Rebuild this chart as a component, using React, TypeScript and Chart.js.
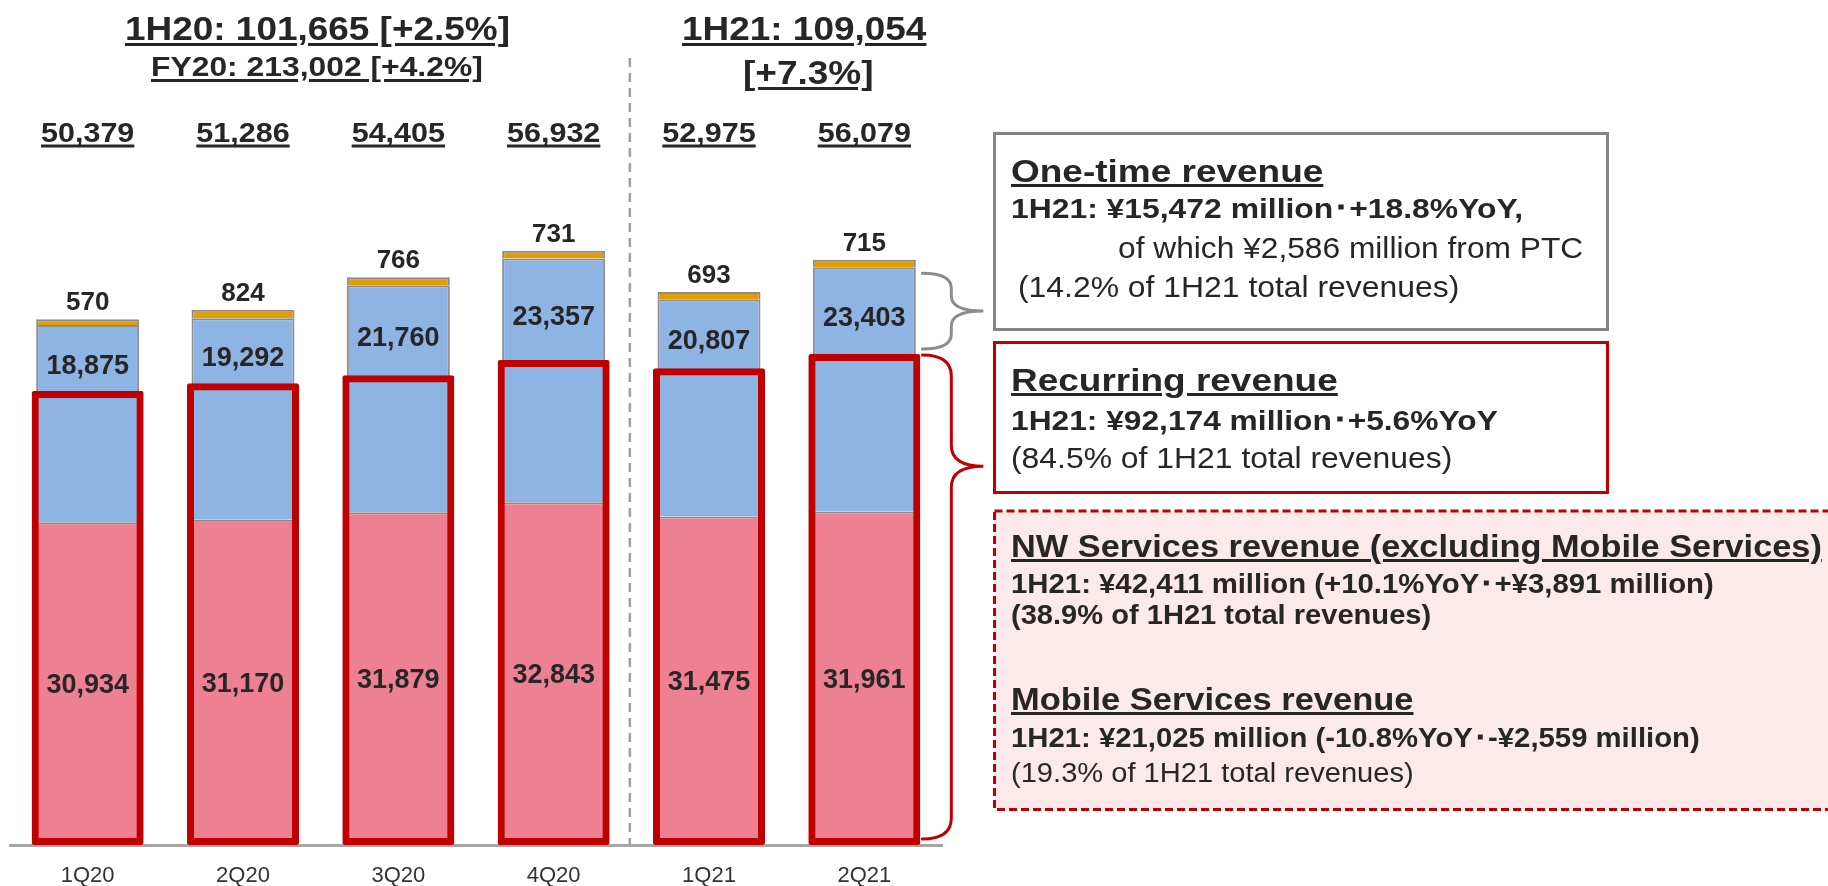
import React, { useEffect, useLayoutEffect, useRef, useState } from 'react';
import { Chart, registerables } from 'chart.js';

Chart.register(...registerables);

const categories = ['1Q20', '2Q20', '3Q20', '4Q20', '1Q21', '2Q21'];
const serviceRevenue = [30934, 31170, 31879, 32843, 31475, 31961];
const systemsRevenue = [18875, 19292, 21760, 23357, 20807, 23403];
const equipmentRevenue = [570, 824, 766, 731, 693, 715];
const recurringRevenue = [43500, 44240, 45000, 46470, 45670, 47040];
const quarterTotals = [50379, 51286, 54405, 56932, 52975, 56079];

const FONT = '"Liberation Sans", Arial, sans-serif';
const TEXT = '#262626';
const fmt = (n: number) => n.toLocaleString('en-US');

function drawText(ctx: any, text: string, x: number, baseline: number, size: number, sx = 1, underline = false) {
  ctx.save();
  ctx.font = `bold ${size}px ${FONT}`;
  ctx.fillStyle = TEXT;
  ctx.textAlign = 'center';
  ctx.textBaseline = 'alphabetic';
  ctx.translate(x, baseline);
  ctx.scale(sx, 1);
  ctx.fillText(text, 0, 0);
  if (underline) {
    const w = ctx.measureText(text).width;
    ctx.fillRect(-w / 2, 2.5, w, 3);
  }
  ctx.restore();
}

function brace(ctx: any, x0: number, xm: number, xt: number, yTop: number, yTip: number, yBot: number, ry: number) {
  ctx.beginPath();
  ctx.moveTo(x0, yTop);
  ctx.quadraticCurveTo(xm, yTop, xm, yTop + ry);
  ctx.lineTo(xm, yTip - ry);
  ctx.quadraticCurveTo(xm, yTip, xt, yTip);
  ctx.quadraticCurveTo(xm, yTip, xm, yTip + ry);
  ctx.lineTo(xm, yBot - ry);
  ctx.quadraticCurveTo(xm, yBot, x0, yBot);
  ctx.stroke();
}

const annotatePlugin = {
  id: 'annotate',
  afterDatasetsDraw(chart: any) {
    const ctx = chart.ctx;
    const xs = chart.scales.x;
    const ys = chart.scales.y;
    const box = chart.getDatasetMeta(0).data;
    const pink = chart.getDatasetMeta(1).data;
    const blue = chart.getDatasetMeta(2).data;
    const orange = chart.getDatasetMeta(3).data;
    const zero = ys.getPixelForValue(0);
    ctx.save();
    const sepX = (xs.getPixelForValue(3) + xs.getPixelForValue(4)) / 2 - 1.5;
    ctx.strokeStyle = '#a0a0a0';
    ctx.lineWidth = 2.5;
    ctx.setLineDash([9, 6]);
    ctx.beginPath();
    ctx.moveTo(sepX, 58);
    ctx.lineTo(sepX, zero);
    ctx.stroke();
    ctx.setLineDash([]);

    categories.forEach((_, i) => {
      const cx = pink[i].x;
      const pinkMid = (pink[i].y + pink[i].base) / 2;
      drawText(ctx, fmt(serviceRevenue[i]), cx, pinkMid + 0.358 * 27, 27);
      const blueMid = (blue[i].y + box[i].y) / 2 + 6;
      drawText(ctx, fmt(systemsRevenue[i]), cx, blueMid + 0.358 * 27, 27);
      drawText(ctx, fmt(equipmentRevenue[i]), cx, orange[i].y - 9, 26);
      drawText(ctx, fmt(quarterTotals[i]), cx, 142, 28, 1.09, true);
    });

    const last = categories.length - 1;
    const x0 = box[last].x + box[last].width / 2 + 2;
    const xm = x0 + 29;
    const xt = x0 + 61;
    ctx.lineWidth = 3;
    ctx.lineCap = 'round';
    ctx.strokeStyle = '#8c8c8c';
    const gTop = blue[last].y + 6;
    const gBot = box[last].y - 5;
    brace(ctx, x0, xm, xt, gTop, (gTop + gBot) / 2, gBot, 15);
    ctx.strokeStyle = '#c00000';
    const rTop = box[last].y + 1;
    const rBot = zero - 6;
    brace(ctx, x0, xm, xt, rTop, rTop + 0.23 * (rBot - rTop), rBot, 21);
    ctx.restore();
  },
};

function FitLine(props: any) {
  const { text, x, base, size, bold = false, underline = false, width, center = false, uOffset = 2 } = props;
  const ref = useRef<HTMLDivElement>(null);
  const [sx, setSx] = useState(1);
  useLayoutEffect(() => {
    const el = ref.current;
    if (el && el.offsetWidth) setSx(width / el.offsetWidth);
  }, [text, width, size]);
  return (
    <div
      ref={ref}
      style={{
        position: 'absolute',
        left: center ? x - width / 2 : x,
        top: base - 0.8465 * size,
        fontFamily: FONT,
        fontSize: size,
        lineHeight: `${size}px`,
        fontWeight: bold ? 700 : 400,
        color: TEXT,
        whiteSpace: 'nowrap',
        textDecoration: underline ? 'underline' : 'none',
        textDecorationThickness: underline ? '3px' : undefined,
        textUnderlineOffset: underline ? `${uOffset}px` : undefined,
        transform: `scaleX(${sx})`,
        transformOrigin: '0 0',
      }}
    >
      {text}
    </div>
  );
}

const headerLines = [
  { text: '1H20: 101,665 [+2.5%]', x: 317, base: 40, size: 33, bold: true, underline: true, width: 385, center: true, uOffset: 3 },
  { text: 'FY20: 213,002 [+4.2%]', x: 317, base: 77, size: 28, bold: true, underline: true, width: 332, center: true, uOffset: 3 },
  { text: '1H21: 109,054', x: 804, base: 40, size: 33, bold: true, underline: true, width: 244, center: true, uOffset: 3 },
  { text: '[+7.3%]', x: 808, base: 84, size: 33, bold: true, underline: true, width: 130, center: true, uOffset: 3 },
];

const boxLines = [
  { text: 'One-time revenue', x: 1011, base: 182, size: 32, bold: true, underline: true, width: 312 },
  { text: '1H21: ¥15,472 million･+18.8%YoY,', x: 1011, base: 219, size: 28, bold: true, width: 512 },
  { text: 'of which ¥2,586 million from PTC', x: 1118, base: 258, size: 30, width: 465 },
  { text: '(14.2% of 1H21 total revenues)', x: 1018, base: 297, size: 30, width: 441 },
  { text: 'Recurring revenue', x: 1011, base: 391, size: 32, bold: true, underline: true, width: 327 },
  { text: '1H21: ¥92,174 million･+5.6%YoY', x: 1011, base: 431, size: 28, bold: true, width: 487 },
  { text: '(84.5% of 1H21 total revenues)', x: 1011, base: 468, size: 30, width: 441 },
  { text: 'NW Services revenue (excluding Mobile Services)', x: 1011, base: 557, size: 32, bold: true, underline: true, width: 811 },
  { text: '1H21: ¥42,411 million (+10.1%YoY･+¥3,891 million)', x: 1011, base: 594, size: 27, bold: true, width: 703 },
  { text: '(38.9% of 1H21 total revenues)', x: 1011, base: 625, size: 27, bold: true, width: 420 },
  { text: 'Mobile Services revenue', x: 1011, base: 710, size: 32, bold: true, underline: true, width: 403 },
  { text: '1H21: ¥21,025 million (-10.8%YoY･-¥2,559 million)', x: 1011, base: 748, size: 27, bold: true, width: 689 },
  { text: '(19.3% of 1H21 total revenues)', x: 1011, base: 783, size: 27, width: 403 },
];

export default function App() {
  const canvasRef = useRef<HTMLCanvasElement>(null);

  useEffect(() => {
    const canvas = canvasRef.current;
    if (!canvas) return;
    const chart = new Chart(canvas, {
      type: 'bar',
      data: {
        labels: categories,
        datasets: [
          {
            label: 'Recurring revenue',
            data: recurringRevenue,
            stack: 'recurring',
            grouped: false,
            backgroundColor: 'rgba(0,0,0,0)',
            borderColor: '#c00000',
            borderWidth: 7,
            borderSkipped: false,
            borderRadius: 2,
            barPercentage: 0.721,
            categoryPercentage: 1,
          },
          {
            label: 'Services',
            data: serviceRevenue,
            stack: 'main',
            backgroundColor: '#ed8192',
            borderColor: '#8c8c8c',
            borderWidth: 2,
            barPercentage: 0.663,
            categoryPercentage: 1,
          },
          {
            label: 'SI',
            data: systemsRevenue,
            stack: 'main',
            backgroundColor: '#8eb4e3',
            borderColor: '#8c8c8c',
            borderWidth: 2,
            barPercentage: 0.663,
            categoryPercentage: 1,
          },
          {
            label: 'Equipment',
            data: equipmentRevenue,
            stack: 'main',
            backgroundColor: '#e39d05',
            borderColor: '#8c8c8c',
            borderWidth: 2,
            barPercentage: 0.663,
            categoryPercentage: 1,
          },
        ],
      },
      options: {
        responsive: false,
        animation: false,
        devicePixelRatio: 1,
        layout: { padding: { left: 10, right: 886, top: 10, bottom: 0 } },
        plugins: { legend: { display: false }, tooltip: { enabled: false }, title: { display: false } },
        scales: {
          x: {
            stacked: true,
            grid: { display: false },
            border: { display: true, color: '#a6a6a6', width: 3 },
            ticks: { color: '#333333', font: { family: FONT, size: 22 }, padding: 10 },
            afterFit: (scale: any) => {
              scale.height = 41;
            },
          },
          y: {
            stacked: true,
            display: false,
            min: 0,
            max: 80000,
          },
        },
      },
      plugins: [annotatePlugin],
    });
    return () => chart.destroy();
  }, []);

  return (
    <div style={{ position: 'absolute', left: 0, top: 0, width: 1828, height: 886, overflow: 'hidden', background: '#ffffff' }}>
      <canvas ref={canvasRef} width={1828} height={886} style={{ position: 'absolute', left: 0, top: 0, display: 'block' }} />
      <svg width={1828} height={886} style={{ position: 'absolute', left: 0, top: 0, pointerEvents: 'none' }}>
        <rect x={994.5} y={133.5} width={613} height={196} fill="#ffffff" stroke="#858585" strokeWidth={3} />
        <rect x={994.5} y={342.5} width={613} height={150} fill="#ffffff" stroke="#c00000" strokeWidth={3} />
        <rect x={994.5} y={511} width={900} height={298.5} fill="#fce9e9" stroke="#c00000" strokeWidth={3} strokeDasharray="8 4" />
      </svg>
      {headerLines.map((l) => (
        <FitLine key={l.text} {...l} />
      ))}
      {boxLines.map((l) => (
        <FitLine key={l.text} {...l} />
      ))}
    </div>
  );
}
